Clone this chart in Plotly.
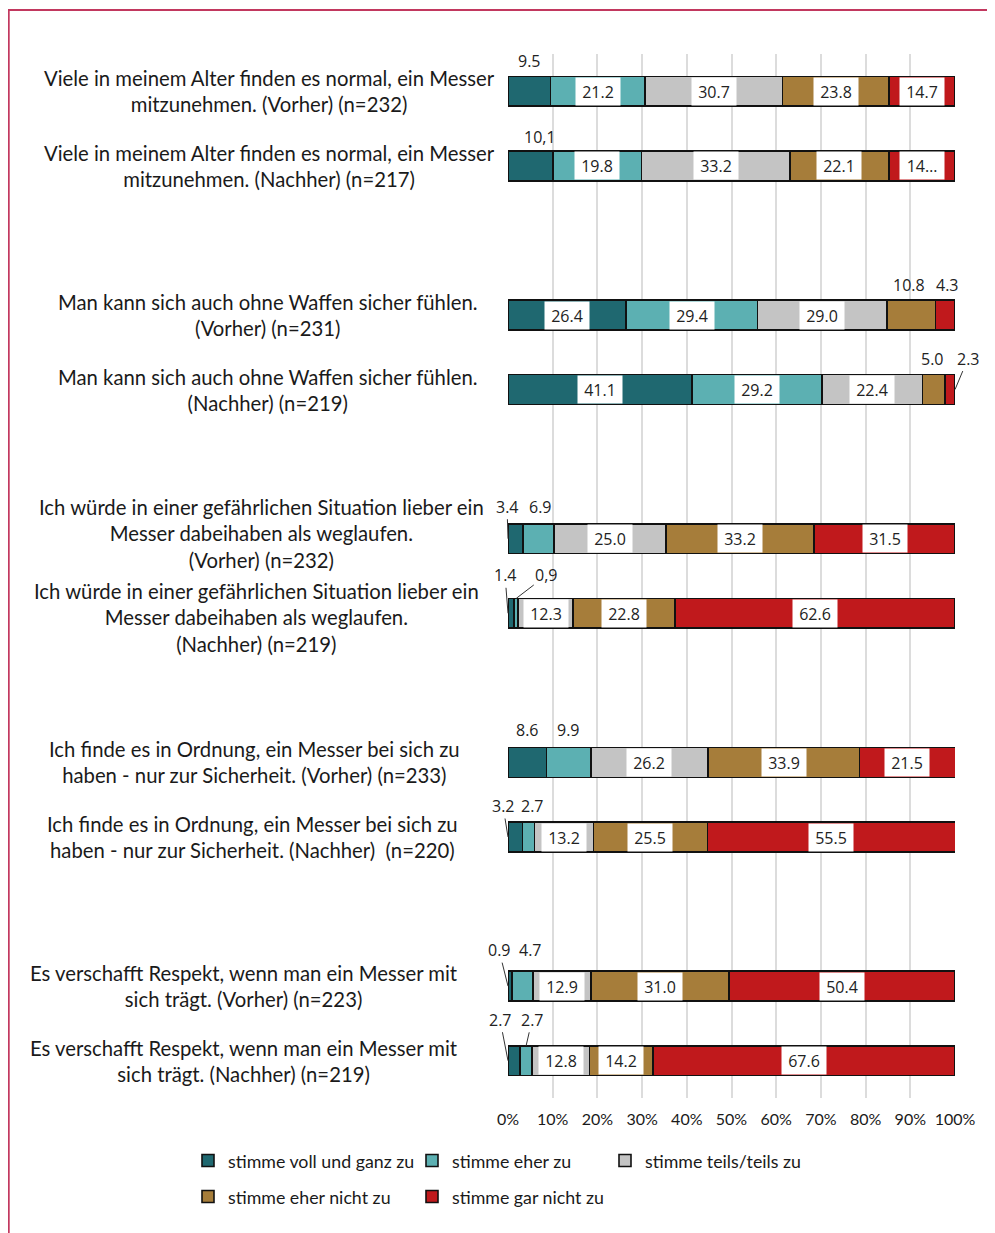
import plotly.graph_objects as go

# ---------------- data ----------------
questions = [
    "Viele in meinem Alter finden es normal, ein Messer<br>mitzunehmen. (Vorher) (n=232)",
    "Viele in meinem Alter finden es normal, ein Messer<br>mitzunehmen. (Nachher) (n=217)",
    "Man kann sich auch ohne Waffen sicher fühlen.<br>(Vorher) (n=231)",
    "Man kann sich auch ohne Waffen sicher fühlen.<br>(Nachher) (n=219)",
    "Ich würde in einer gefährlichen Situation lieber ein<br>Messer dabeihaben als weglaufen.<br>(Vorher) (n=232)",
    "Ich würde in einer gefährlichen Situation lieber ein<br>Messer dabeihaben als weglaufen.<br>(Nachher) (n=219)",
    "Ich finde es in Ordnung, ein Messer bei sich zu<br>haben - nur zur Sicherheit. (Vorher) (n=233)",
    "Ich finde es in Ordnung, ein Messer bei sich zu<br>haben - nur zur Sicherheit. (Nachher)  (n=220)",
    "Es verschafft Respekt, wenn man ein Messer mit<br>sich trägt. (Vorher) (n=223)",
    "Es verschafft Respekt, wenn man ein Messer mit<br>sich trägt. (Nachher) (n=219)",
]
y_pos = [0, 1, 3, 4, 6, 7, 9, 10, 12, 13]

series_names = [
    "stimme voll und ganz zu",
    "stimme eher zu",
    "stimme teils/teils zu",
    "stimme eher nicht zu",
    "stimme gar nicht zu",
]
voll_und_ganz = [9.5, 10.1, 26.4, 41.1, 3.4, 1.4, 8.6, 3.2, 0.9, 2.7]
eher_zu = [21.2, 19.8, 29.4, 29.2, 6.9, 0.9, 9.9, 2.7, 4.7, 2.7]
teils_teils = [30.7, 33.2, 29.0, 22.4, 25.0, 12.3, 26.2, 13.2, 12.9, 12.8]
eher_nicht = [23.8, 22.1, 10.8, 5.0, 33.2, 22.8, 33.9, 25.5, 31.0, 14.2]
gar_nicht = [14.7, 14.8, 4.3, 2.3, 31.5, 62.6, 21.5, 55.5, 50.4, 67.6]
series_values = [voll_und_ganz, eher_zu, teils_teils, eher_nicht, gar_nicht]

# label text overrides as printed in the original
label_overrides = {(1, 0): "10,1", (5, 1): "0,9", (1, 4): "14…"}

x_ticks = [0, 10, 20, 30, 40, 50, 60, 70, 80, 90, 100]
x_tick_text = [f"{t}%" for t in x_ticks]

# ---------------- styling / layout ----------------
colors = ["#1F6870", "#5CB0B2", "#C4C4C4", "#A67D3A", "#C0191C"]
OFF = 8                      # page body margin of the browser
W, H = 995 - OFF, 1233 - OFF  # figure fits the window exactly
# plot area in screen pixels
PL, PR, PT, PB = 508, 955, 54, 1098
ML, MR = PL - OFF, W - (PR - OFF)
MT, MB = PT - OFF, H - (PB - OFF)
PW = PR - PL
PH = PB - PT

def px2x(px):   # screen px -> paper x
    return (px - PL) / PW

def py2y(py):   # screen px -> paper y
    return (PB - py) / PH

LABEL_FONT = "Lato"
VALUE_FONT = "Open Sans"

# placement of labels drawn outside the bars (pixel offsets)
outside_plain = {  # (bar, seg): (dx, dy)
    (0, 0): (0, -30), (1, 0): (9, -29),
    (2, 3): (-2, -30), (2, 4): (3, -30),
    (3, 3): (-1, -31),
    (4, 1): (2, -32),
    (6, 0): (0, -32), (6, 1): (0, -32),
    (7, 1): (4, -31),
    (8, 1): (8, -36),
}
outside_arrow = {  # (bar, seg): (tip_x_mode, tip_y_mode, ax, ay)
    (3, 4): ("end", "mid", 13, -31),
    (4, 0): ("start", "mid", -1, -32),
    (5, 0): ("start", "mid", -3, -38),
    (5, 1): ("center", "top", 30, -23),
    (7, 0): ("start", "mid", -5, -31),
    (8, 0): ("start", "mid", -9, -36),
    (9, 0): ("start", "mid", -8, -41),
    (9, 1): ("center", "top", 6, -26),
}
BAR_W = 0.4

fig = go.Figure()
for s, (name, vals, col) in enumerate(zip(series_names, series_values, colors)):
    fig.add_trace(go.Bar(
        name=name, x=vals, y=y_pos, orientation="h", width=BAR_W,
        marker=dict(color=col, line=dict(color="#111111", width=1.6)),
        legend="legend" if s == 0 else f"legend{s + 1}",
        hoverinfo="x+name",
    ))

annotations = []
# value labels
for i in range(len(y_pos)):
    cum = 0.0
    for s, vals in enumerate(series_values):
        v = vals[i]
        start, end = cum, cum + v
        center = cum + v / 2
        cum = end
        text = label_overrides.get((i, s), f"{v:.1f}")
        if (i, s) in outside_plain:
            dx, dy = outside_plain[(i, s)]
            annotations.append(dict(
                x=center, y=y_pos[i], xref="x", yref="y", text=text, showarrow=False,
                xshift=dx, yshift=-dy, font=dict(family=VALUE_FONT, size=16, color="#222222"),
            ))
        elif (i, s) in outside_arrow:
            mx, my, ax, ay = outside_arrow[(i, s)]
            tx = {"start": start, "end": end, "center": center}[mx]
            ty = y_pos[i] - (BAR_W / 2 if my == "top" else 0)
            annotations.append(dict(
                x=tx, y=ty, xref="x", yref="y", text=text, showarrow=True,
                arrowhead=0, arrowwidth=1, arrowcolor="#333333", standoff=0,
                ax=ax, ay=ay, font=dict(family=VALUE_FONT, size=16, color="#222222"),
            ))
        else:
            annotations.append(dict(
                x=center, y=y_pos[i], xref="x", yref="y", text=text, showarrow=False,
                bgcolor="#FFFFFF", width=38, height=21, borderpad=3,
                font=dict(family=VALUE_FONT, size=16, color="#222222"),
            ))

# question labels (centered multi-line text)
label_center_px = [269, 269, 268, 268, 261, 257, 254, 252, 244, 244]
label_yshift_px = [0, 0, 0, 0, 5, -4, 0, 0, 0, 0]
for i, q in enumerate(questions):
    annotations.append(dict(
        x=px2x(label_center_px[i]), y=y_pos[i], xref="paper", yref="y",
        text=q, showarrow=False, align="center", xanchor="center", yanchor="middle",
        yshift=label_yshift_px[i],
        font=dict(family=LABEL_FONT, size=20.3, color="#1a1a1a"),
    ))

# outer frame (top and left borders)
frame = dict(type="path", xref="paper", yref="paper",
             path=f"M {px2x(8.8)} {py2y(1240)} L {px2x(8.8)} {py2y(10)} L {px2x(1000)} {py2y(10)}",
             line=dict(color="#C2385F", width=1.8))

legend_pos = [(188, 1161), (412, 1161), (605, 1161), (188, 1197), (412, 1197)]
legend_layouts = {}
for s, (lx, ly) in enumerate(legend_pos):
    key = "legend" if s == 0 else f"legend{s + 1}"
    legend_layouts[key] = dict(
        x=px2x(lx), y=py2y(ly), xanchor="left", yanchor="middle",
        orientation="h", bgcolor="rgba(0,0,0,0)",
        font=dict(family=LABEL_FONT, size=17.8, color="#1a1a1a"),
    )

fig.update_layout(
    width=W, height=H, barmode="stack",
    margin=dict(l=ML, r=MR, t=MT, b=MB),
    paper_bgcolor="#FFFFFF", plot_bgcolor="#FFFFFF",
    xaxis=dict(range=[0, 100], tickvals=x_ticks, ticktext=x_tick_text,
               showgrid=True, gridcolor="#DCDCDC", gridwidth=1.5, zeroline=False,
               showline=False, ticks="", ticklabelstandoff=10,
               tickfont=dict(family=LABEL_FONT, size=16, color="#1a1a1a"), fixedrange=True),
    yaxis=dict(range=[13.5, -0.5], showticklabels=False, showgrid=False,
               zeroline=False, showline=False, fixedrange=True),
    annotations=annotations,
    shapes=[frame],
    showlegend=True,
    **legend_layouts,
)

fig.write_html("out.html")
